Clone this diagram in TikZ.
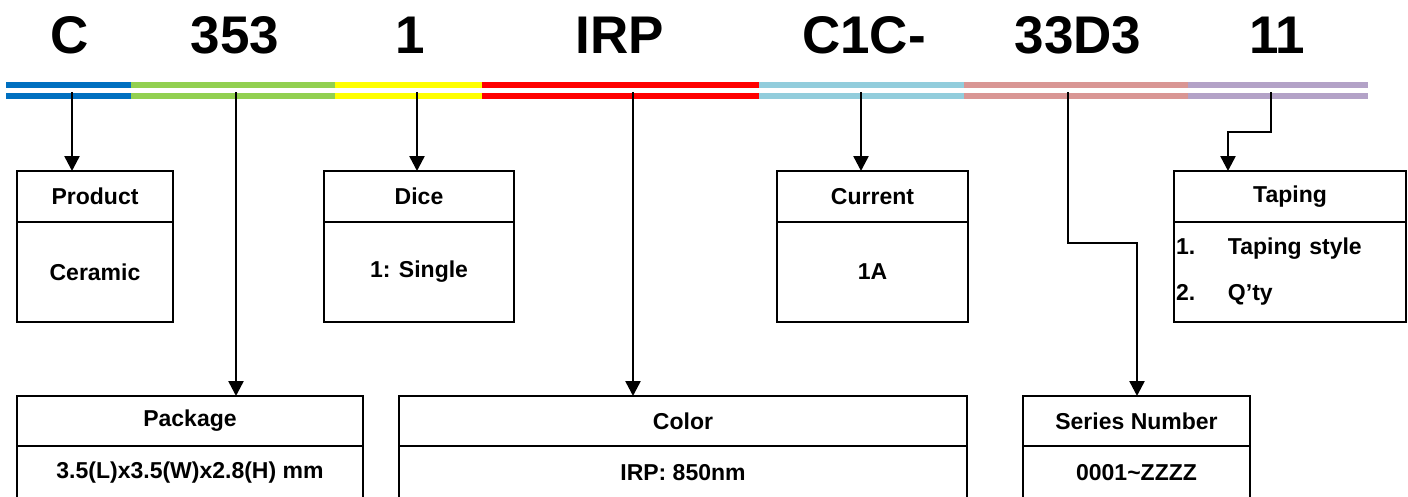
\documentclass[tikz,border=0pt]{standalone}
\usepackage{fontspec}
\setmainfont{Liberation Sans}
\usetikzlibrary{arrows.meta,positioning}

\definecolor{segblue}{HTML}{0070C0}
\definecolor{seggreen}{HTML}{92D050}
\definecolor{segyellow}{HTML}{FFFF00}
\definecolor{segred}{HTML}{FF0000}
\definecolor{segcyan}{HTML}{92CDDC}
\definecolor{segpink}{HTML}{D99694}
\definecolor{segviolet}{HTML}{B3A2C7}

\tikzset{
  code/.style={anchor=base, inner sep=0pt, font=\fontsize{53}{60}\selectfont\bfseries},
  hdr/.style={draw, line width=2.5pt, outer sep=0pt, inner sep=0pt, minimum height=51pt,
    font=\fontsize{23}{27}\selectfont\bfseries},
  body/.style={hdr, below=0pt of #1},
  arr/.style={line width=2.5pt, -{Triangle[width=15pt,length=15pt]}}
}

\begin{document}
\begin{tikzpicture}[x=1pt, y=-1pt]
  \useasboundingbox (0,0) rectangle (1408,496);
  % code letters
  \node[code] (cC) at (70,53) {C};
  \node[code] (cPkg) at (235,53) {353};
  \node[code] (cDice) at (410,53) {1};
  \node[code] (cColor) at (620,53) {IRP};
  \node[code] (cCur) at (864,53) {C1C-};
  \node[code] (cSer) at (1078,53) {33D3};
  \node[code] (cTap) at (1277,53) {11};
  % colour bars
  \foreach \xa/\xb/\col in {6/131/segblue, 131/335/seggreen, 335/482/segyellow,
      482/759/segred, 759/964/segcyan, 964/1188/segpink, 1188/1368/segviolet} {
    \fill[\col] (\xa,82) rectangle (\xb,88);
    \fill[\col] (\xa,93) rectangle (\xb,99);
  }
  % top boxes
  \node[hdr, minimum width=156pt] (prodh) at (95,196.5) {Product};
  \node[body=prodh, minimum width=156pt, minimum height=100pt] (prodb) {Ceramic};
  \node[hdr, minimum width=190pt] (diceh) at (419,196.5) {Dice};
  \node[body=diceh, minimum width=190pt, minimum height=100pt] (diceb) {1: Single};
  \node[hdr, minimum width=191pt] (curh) at (872.5,196.5) {Current};
  \node[body=curh, minimum width=191pt, minimum height=100pt] (curb) {1A};
  \node[hdr, minimum width=232pt] (taph) at (1290,196.5) {Taping};
  \node[body=taph, minimum width=232pt, minimum height=100pt, text width=228pt,
    inner xsep=2pt, align=left, font=\fontsize{23}{46}\selectfont\bfseries] (tapb)
    {\makebox[52pt][l]{1.}Taping style\\\makebox[52pt][l]{2.}Q’ty};
  % bottom boxes
  \node[hdr, minimum width=346pt, minimum height=50pt] (pkgh) at (190,421) {Package};
  \node[body=pkgh, minimum width=346pt, minimum height=54pt] (pkgb) {3.5(L)x3.5(W)x2.8(H) mm};
  \node[hdr, minimum width=568pt, minimum height=50pt] (colh) at (683,421) {Color};
  \node[body=colh, minimum width=568pt, minimum height=54pt] (colb) {IRP: 850nm};
  \node[hdr, minimum width=227pt, minimum height=50pt] (serh) at (1136.5,421) {Series Number};
  \node[body=serh, minimum width=227pt, minimum height=54pt] (serb) {0001\textasciitilde ZZZZ};
  % arrows
  \coordinate (tC) at (72,92);
  \coordinate (tPkg) at (236,92);
  \coordinate (tDice) at (417,92);
  \coordinate (tColor) at (633,92);
  \coordinate (tCur) at (861,92);
  \coordinate (tSer) at (1068,92);
  \coordinate (tTap) at (1271,92);
  \draw[arr] (tC) -- (tC |- prodh.north);
  \draw[arr] (tPkg) -- (tPkg |- pkgh.north);
  \draw[arr] (tDice) -- (tDice |- diceh.north);
  \draw[arr] (tColor) -- (tColor |- colh.north);
  \draw[arr] (tCur) -- (tCur |- curh.north);
  \draw[arr] (tSer) -- (1068,243) -- (1137,243) -- (1137,0 |- serh.north);
  \draw[arr] (tTap) -- (1271,132) -- (1228,132) -- (1228,0 |- taph.north);
\end{tikzpicture}
\end{document}
